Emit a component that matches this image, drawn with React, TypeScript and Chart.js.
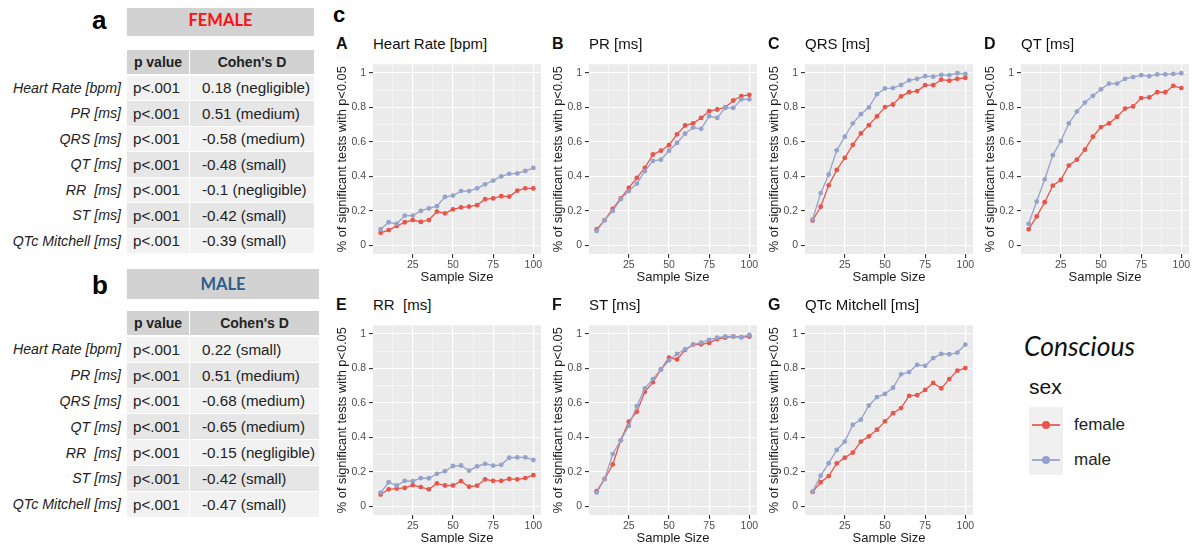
import React, { useEffect, useRef } from "react";
import { Chart, registerables } from "chart.js";

Chart.register(...registerables);

// ---------------- data ----------------
const sampleSizes = [5, 10, 15, 20, 25, 30, 35, 40, 45, 50, 55, 60, 65, 70, 75, 80, 85, 90, 95, 100];

const hrFemale = [0.073, 0.089, 0.112, 0.134, 0.147, 0.136, 0.147, 0.196, 0.186, 0.209, 0.22, 0.225, 0.233, 0.268, 0.272, 0.285, 0.283, 0.317, 0.331, 0.33];
const hrMale = [0.093, 0.134, 0.125, 0.173, 0.173, 0.2, 0.214, 0.227, 0.281, 0.289, 0.315, 0.315, 0.331, 0.354, 0.376, 0.4, 0.415, 0.417, 0.432, 0.449];

const prFemale = [0.093, 0.147, 0.212, 0.272, 0.333, 0.391, 0.449, 0.527, 0.549, 0.581, 0.644, 0.695, 0.708, 0.739, 0.778, 0.788, 0.8, 0.84, 0.866, 0.873];
const prMale = [0.084, 0.147, 0.2, 0.268, 0.315, 0.358, 0.43, 0.49, 0.497, 0.549, 0.594, 0.648, 0.683, 0.676, 0.749, 0.739, 0.797, 0.797, 0.847, 0.847];

const qrsFemale = [0.144, 0.224, 0.348, 0.437, 0.507, 0.583, 0.649, 0.697, 0.748, 0.802, 0.817, 0.864, 0.888, 0.895, 0.929, 0.929, 0.961, 0.955, 0.966, 0.972];
const qrsMale = [0.15, 0.303, 0.411, 0.551, 0.63, 0.708, 0.761, 0.8, 0.877, 0.91, 0.912, 0.93, 0.957, 0.966, 0.981, 0.978, 0.989, 0.987, 0.998, 0.994];

const qtFemale = [0.093, 0.168, 0.25, 0.346, 0.379, 0.463, 0.497, 0.555, 0.63, 0.686, 0.707, 0.746, 0.793, 0.806, 0.854, 0.858, 0.888, 0.888, 0.925, 0.912];
const qtMale = [0.125, 0.254, 0.383, 0.523, 0.604, 0.707, 0.776, 0.828, 0.867, 0.905, 0.938, 0.938, 0.966, 0.976, 0.987, 0.981, 0.991, 0.991, 0.994, 0.998];

const rrFemale = [0.069, 0.099, 0.103, 0.107, 0.123, 0.112, 0.099, 0.133, 0.121, 0.121, 0.146, 0.114, 0.12, 0.157, 0.148, 0.148, 0.159, 0.157, 0.164, 0.181];
const rrMale = [0.08, 0.14, 0.121, 0.148, 0.146, 0.164, 0.163, 0.189, 0.204, 0.234, 0.237, 0.207, 0.232, 0.247, 0.236, 0.241, 0.282, 0.284, 0.284, 0.269];

const stFemale = [0.088, 0.159, 0.243, 0.383, 0.492, 0.548, 0.664, 0.72, 0.794, 0.862, 0.852, 0.907, 0.938, 0.94, 0.948, 0.97, 0.978, 0.985, 0.981, 0.985];
const stMale = [0.08, 0.159, 0.303, 0.383, 0.467, 0.581, 0.684, 0.738, 0.794, 0.847, 0.884, 0.91, 0.938, 0.95, 0.966, 0.978, 0.985, 0.985, 0.981, 0.994];

const qtcFemale = [0.084, 0.14, 0.176, 0.249, 0.282, 0.312, 0.376, 0.406, 0.445, 0.493, 0.54, 0.57, 0.641, 0.645, 0.675, 0.716, 0.684, 0.738, 0.787, 0.802];
const qtcMale = [0.086, 0.178, 0.25, 0.327, 0.376, 0.473, 0.503, 0.585, 0.634, 0.652, 0.688, 0.766, 0.779, 0.821, 0.815, 0.86, 0.884, 0.882, 0.892, 0.938];

const xGridTicks = [12.5, 25, 37.5, 50, 62.5, 75, 87.5, 100];
const xLabelTicks = [25, 50, 75, 100];
const yGridTicks = [0, 0.1, 0.2, 0.3, 0.4, 0.5, 0.6, 0.7, 0.8, 0.9, 1];
const yLabelTicks = ["0", "", "0.2", "", "0.4", "", "0.6", "", "0.8", "", "1"];

const measures = ["Heart Rate [bpm]", "PR [ms]", "QRS [ms]", "QT [ms]", "RR  [ms]", "ST [ms]", "QTc Mitchell [ms]"];
const femalePValues = ["p<.001", "p<.001", "p<.001", "p<.001", "p<.001", "p<.001", "p<.001"];
const femaleCohenD = ["0.18 (negligible)", "0.51 (medium)", "-0.58 (medium)", "-0.48 (small)", "-0.1 (negligible)", "-0.42 (small)", "-0.39 (small)"];
const malePValues = ["p<.001", "p<.001", "p<.001", "p<.001", "p<.001", "p<.001", "p<.001"];
const maleCohenD = ["0.22 (small)", "0.51 (medium)", "-0.68 (medium)", "-0.65 (medium)", "-0.15 (negligible)", "-0.42 (small)", "-0.47 (small)"];

const panelLetters = ["A", "B", "C", "D", "E", "F", "G"];
const panelTitles = ["Heart Rate [bpm]", "PR [ms]", "QRS [ms]", "QT [ms]", "RR  [ms]", "ST [ms]", "QTc Mitchell [ms]"];
const panelFemale = [hrFemale, prFemale, qrsFemale, qtFemale, rrFemale, stFemale, qtcFemale];
const panelMale = [hrMale, prMale, qrsMale, qtMale, rrMale, stMale, qtcMale];

const FEMALE_COLOR = "#E9554B";
const MALE_COLOR = "#95A2C9";
const FONT = "'Liberation Sans', Arial, sans-serif";

// ---------------- layout ----------------
const PLOT_W = 168;
const PLOT_H = 197;
const YAXIS_W = 44;
const XAXIS_H = 32;
const PAD_TOP = 2;
const PAD_RIGHT = 10;
const panelPos = [
  { left: 373, top: 57 },
  { left: 589, top: 57 },
  { left: 805, top: 57 },
  { left: 1021, top: 57 },
  { left: 373, top: 318 },
  { left: 589, top: 318 },
  { left: 805, top: 318 },
];

const bgPlugin = {
  id: "panelBg",
  beforeDraw(chart: any) {
    const { ctx, chartArea } = chart;
    ctx.save();
    ctx.fillStyle = "#EBEBEB";
    ctx.fillRect(chartArea.left, chartArea.top, chartArea.right - chartArea.left, chartArea.bottom - chartArea.top);
    ctx.restore();
  },
};

function Panel({ idx }: { idx: number }) {
  const ref = useRef<HTMLCanvasElement>(null);
  useEffect(() => {
    if (!ref.current) return;
    const toPts = (arr: number[]) => arr.map((v, i) => ({ x: sampleSizes[i], y: v }));
    const chart = new Chart(ref.current, {
      type: "line",
      data: {
        datasets: [
          {
            label: "male",
            data: toPts(panelMale[idx]),
            borderColor: MALE_COLOR,
            backgroundColor: MALE_COLOR,
            borderWidth: 1.3,
            pointRadius: 2.4,
            pointBorderWidth: 0,
            pointBackgroundColor: MALE_COLOR,
            tension: 0,
          },
          {
            label: "female",
            data: toPts(panelFemale[idx]),
            borderColor: FEMALE_COLOR,
            backgroundColor: FEMALE_COLOR,
            borderWidth: 1.3,
            pointRadius: 2.4,
            pointBorderWidth: 0,
            pointBackgroundColor: FEMALE_COLOR,
            tension: 0,
          },
        ],
      },
      options: {
        animation: false,
        responsive: false,
        maintainAspectRatio: false,
        events: [],
        layout: { padding: { left: 0, top: PAD_TOP, right: PAD_RIGHT, bottom: 0 } },
        plugins: { legend: { display: false }, tooltip: { enabled: false }, title: { display: false } },
        scales: {
          x: {
            type: "linear",
            min: 0.25,
            max: 104.75,
            afterBuildTicks: (axis: any) => {
              axis.ticks = xGridTicks.map((v) => ({ value: v }));
            },
            afterFit: (scale: any) => {
              scale.height = XAXIS_H;
            },
            ticks: {
              autoSkip: false,
              maxRotation: 0,
              padding: 1,
              color: "#4D4D4D",
              font: { family: FONT, size: 10.5 },
              callback: (value: any) => (xLabelTicks.includes(Number(value)) ? String(value) : ""),
            },
            grid: {
              color: "#FFFFFF",
              lineWidth: (ctx: any) => (xLabelTicks.includes(ctx.tick?.value) ? 1.1 : 0.5),
              tickColor: (ctx: any) => (xLabelTicks.includes(ctx.tick?.value) ? "#333333" : "rgba(0,0,0,0)"),
              tickLength: 4,
              drawTicks: true,
            },
            border: { display: false },
            title: {
              display: true,
              text: "Sample Size",
              color: "#1A1A1A",
              font: { family: FONT, size: 13 },
              padding: { top: 0, bottom: 1 },
            },
          },
          y: {
            type: "linear",
            min: -0.05,
            max: 1.05,
            afterBuildTicks: (axis: any) => {
              axis.ticks = yGridTicks.map((v) => ({ value: v }));
            },
            afterFit: (scale: any) => {
              scale.width = YAXIS_W;
            },
            ticks: {
              autoSkip: false,
              padding: 3,
              color: "#4D4D4D",
              font: { family: FONT, size: 10.5 },
              callback: (_v: any, i: number) => yLabelTicks[i],
            },
            grid: {
              color: "#FFFFFF",
              lineWidth: (ctx: any) => (ctx.index % 2 === 0 ? 1.1 : 0.5),
              tickColor: (ctx: any) => (ctx.index % 2 === 0 ? "#333333" : "rgba(0,0,0,0)"),
              tickLength: 4,
              drawTicks: true,
            },
            border: { display: false },
            title: {
              display: true,
              text: "% of significant tests with p<0.05",
              color: "#1A1A1A",
              font: { family: FONT, size: 12.8 },
              padding: { top: 6, bottom: 0 },
            },
          },
        },
      },
      plugins: [bgPlugin],
    } as any);
    return () => chart.destroy();
  }, [idx]);

  const pos = panelPos[idx];
  const cw = YAXIS_W + PLOT_W + PAD_RIGHT;
  const ch = PAD_TOP + PLOT_H + XAXIS_H;
  return (
    <>
      <div
        style={{
          position: "absolute",
          left: pos.left - 37,
          top: pos.top - 22,
          fontFamily: FONT,
          fontWeight: "bold",
          fontSize: 16,
          color: "#111",
          lineHeight: "17px",
        }}
      >
        {panelLetters[idx]}
      </div>
      <div
        style={{
          position: "absolute",
          left: pos.left,
          top: pos.top - 22,
          fontFamily: FONT,
          fontSize: 15,
          color: "#111",
          lineHeight: "17px",
          whiteSpace: "pre",
        }}
      >
        {panelTitles[idx]}
      </div>
      <canvas
        ref={ref}
        width={cw}
        height={ch}
        style={{ position: "absolute", left: pos.left - YAXIS_W, top: pos.top - PAD_TOP, width: cw, height: ch }}
      />
    </>
  );
}

function StatTable({
  letter,
  label,
  labelColor,
  top,
  width,
  headerH,
  colTop,
  rowStart,
  rowStep,
  pValues,
  cohen,
}: {
  letter: string;
  label: string;
  labelColor: string;
  top: number;
  width: number;
  headerH: number;
  colTop: number;
  rowStart: number;
  rowStep: number;
  pValues: string[];
  cohen: string[];
}) {
  const left = 127;
  const col1W = 62;
  const col2L = 190;
  const col2W = left + width - col2L;
  const cell: React.CSSProperties = { position: "absolute", boxSizing: "border-box" };
  return (
    <>
      <div style={{ ...cell, left: 92, top: top + 1, fontFamily: FONT, fontWeight: "bold", fontSize: 26, lineHeight: "30px", color: "#000" }}>
        {letter}
      </div>
      <div
        style={{
          ...cell,
          left,
          top,
          width,
          height: headerH,
          background: "#D2D2D2",
          color: labelColor,
          fontFamily: "Lato, 'Open Sans', sans-serif",
          fontWeight: "bold",
          fontSize: 16.5,
          display: "flex",
          alignItems: "center",
          justifyContent: "center",
        }}
      >
        {label}
      </div>
      <div
        style={{
          ...cell,
          left,
          top: colTop,
          width: col1W,
          height: 24,
          background: "#D2D2D2",
          fontFamily: FONT,
          fontWeight: "bold",
          fontSize: 14,
          color: "#222",
          display: "flex",
          alignItems: "center",
          justifyContent: "center",
        }}
      >
        p value
      </div>
      <div
        style={{
          ...cell,
          left: col2L,
          top: colTop,
          width: col2W,
          height: 24,
          background: "#D2D2D2",
          fontFamily: FONT,
          fontWeight: "bold",
          fontSize: 14,
          color: "#222",
          display: "flex",
          alignItems: "center",
          justifyContent: "center",
        }}
      >
        Cohen's D
      </div>
      {measures.map((m, i) => {
        const rt = rowStart + i * rowStep;
        const bg = i % 2 === 0 ? "#F2F2F2" : "#E6E6E6";
        const txt: React.CSSProperties = {
          ...cell,
          top: rt,
          height: rowStep - 1,
          display: "flex",
          alignItems: "center",
          fontFamily: FONT,
          fontSize: 15.2,
          color: "#222",
          whiteSpace: "pre",
        };
        return (
          <React.Fragment key={m}>
            <div style={{ ...txt, left: 0, width: 121, justifyContent: "flex-end", fontStyle: "italic", fontSize: 14.2 }}>{m}</div>
            <div style={{ ...txt, left, width: col1W, background: bg, paddingLeft: 6 }}>{pValues[i]}</div>
            <div style={{ ...txt, left: col2L, width: col2W, background: bg, paddingLeft: 12 }}>{cohen[i]}</div>
          </React.Fragment>
        );
      })}
    </>
  );
}

function Legend() {
  return (
    <>
      <div style={{ position: "absolute", left: 1024, top: 331, fontFamily: "Lato, 'Open Sans', sans-serif", fontStyle: "italic", fontSize: 26.5, lineHeight: "30px", color: "#111" }}>
        Conscious
      </div>
      <div style={{ position: "absolute", left: 1029, top: 375, fontFamily: FONT, fontSize: 21, lineHeight: "24px", color: "#111" }}>sex</div>
      <div style={{ position: "absolute", left: 1029, top: 407, width: 34, height: 68, background: "#F0F0F0" }} />
      {[
        { label: "female", color: FEMALE_COLOR, y: 425 },
        { label: "male", color: MALE_COLOR, y: 460 },
      ].map((k) => (
        <React.Fragment key={k.label}>
          <div style={{ position: "absolute", left: 1032, top: k.y - 1, width: 28, height: 2, background: k.color, opacity: 0.85 }} />
          <div style={{ position: "absolute", left: 1042, top: k.y - 4, width: 8, height: 8, borderRadius: 4, background: k.color }} />
          <div style={{ position: "absolute", left: 1074, top: k.y - 10, fontFamily: FONT, fontSize: 17, lineHeight: "20px", color: "#222" }}>{k.label}</div>
        </React.Fragment>
      ))}
    </>
  );
}

export default function App() {
  return (
    <div style={{ position: "relative", width: 1198, height: 551, margin: -8, background: "#fff", overflow: "hidden" }}>
      <StatTable
        letter="a"
        label="FEMALE"
        labelColor="#FF1010"
        top={4}
        width={187}
        headerH={32}
        colTop={50}
        rowStart={75.5}
        rowStep={25.5}
        pValues={femalePValues}
        cohen={femaleCohenD}
      />
      <StatTable
        letter="b"
        label="MALE"
        labelColor="#2F5D8C"
        top={269}
        width={192}
        headerH={30}
        colTop={311}
        rowStart={337}
        rowStep={25.8}
        pValues={malePValues}
        cohen={maleCohenD}
      />
      <div style={{ position: "absolute", left: 333, top: 3, fontFamily: FONT, fontWeight: "bold", fontSize: 22, lineHeight: "24px", color: "#000" }}>c</div>
      {panelLetters.map((_, i) => (
        <Panel key={i} idx={i} />
      ))}
      <Legend />
    </div>
  );
}
